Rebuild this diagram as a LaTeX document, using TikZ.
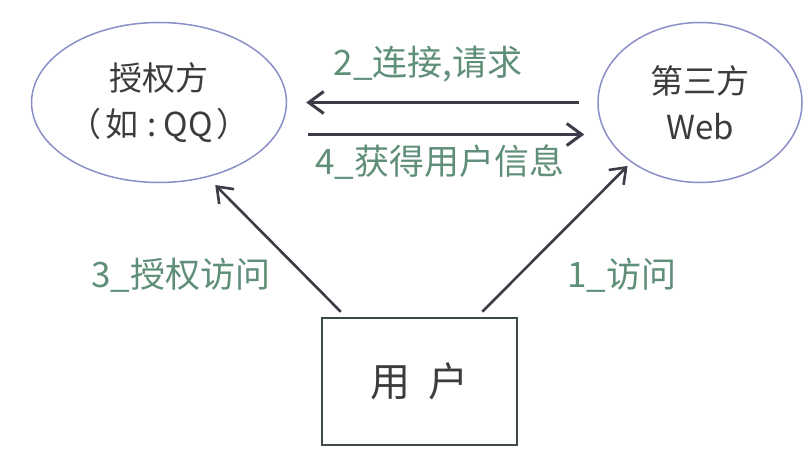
\documentclass[tikz,border=0pt]{standalone}
\usepackage{fontspec}
\setmainfont{Noto Sans CJK SC}
\usetikzlibrary{arrows.meta,shapes.geometric,calc}
\definecolor{ellcol}{HTML}{8A8FC8}
\definecolor{txtcol}{HTML}{3C3C3C}
\definecolor{grn}{HTML}{5F8F78}
\definecolor{arrcol}{HTML}{3F3A48}
\definecolor{boxcol}{HTML}{3D4A47}
\tikzset{
  party/.style={ellipse, draw=ellcol, line width=1.5pt, minimum width=204pt, minimum height=160pt,
    inner sep=0pt, text=txtcol, align=center, font=\fontsize{33}{46}\selectfont},
  userbox/.style={rectangle, draw=boxcol, line width=2.5pt, minimum width=195pt, minimum height=127pt,
    inner sep=0pt, text=txtcol, font=\fontsize{40}{48}\selectfont},
  lbl/.style={text=grn, font=\fontsize{35}{40}\selectfont, inner sep=0pt},
  arr/.style={draw=arrcol, line width=3pt, -{Straight Barb[length=15pt,width=22pt,line width=3pt]}},
  darr/.style={draw=arrcol, line width=2.6pt, -{Straight Barb[length=14pt,width=21pt,line width=2.6pt]}}
}
\begin{document}
\begin{tikzpicture}[x=1pt,y=1pt]
\useasboundingbox (0,0) rectangle (808,456);
\fill[white] (0,0) rectangle (808,456);
\node[party] (L) at (159,353.5) {授权方\\（\hspace{0.1em}如\hspace{0.28em}:\hspace{0.22em}QQ\hspace{0.1em}）};
\node[party] (R) at (700,353.5) {第三方\\Web};
\node[userbox] (B) at (419.5,74.5) {用\hspace{0.45em}户};
\draw[arr] ($(R.west)+(-18,0)$) -- ($(L.east)+(19,0)$);
\draw[arr] ($(L.east)+(21,-32)$) -- ($(R.west)+(-13,-32)$);
\draw[darr, shorten >=11pt] ($(B.north west)+(20,5)$) -- (L.-57);
\draw[darr, shorten >=5pt] ($(B.north east)+(-36,5)$) -- (R.221);
\node[lbl] (t2) at (428,392) {2\_连接,请求};
\node[lbl] (t4) at (440,294) {4\_获得用户信息};
\node[lbl] (t3) at (181,181) {3\_授权访问};
\node[lbl] (t1) at (622,181) {1\_访问};
\end{tikzpicture}
\end{document}
